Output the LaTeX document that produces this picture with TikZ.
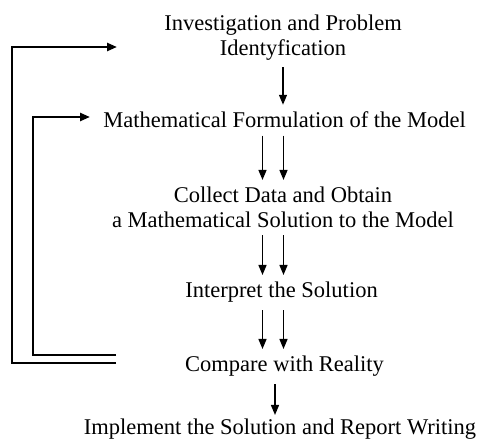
\documentclass[tikz,border=0pt]{standalone}
\usepackage{fontspec}
\setmainfont{Liberation Serif}
\usetikzlibrary{arrows.meta, positioning, calc}
\tikzset{
  stage/.style={align=center, font=\fontsize{11.25}{12.25}\selectfont, inner sep=3.5pt},
  flow/.style={-{Triangle[length=5pt, width=4pt]}, line width=0.7pt},
  feedback/.style={-{Triangle[length=5pt, width=4pt]}, line width=1.2pt},
}

\begin{document}
\begin{tikzpicture}[x=0.5pt, y=-0.5pt]
\useasboundingbox (0,0) rectangle (483,448);
% modelling steps
\node[stage] (inv) at (283,37.5) {Investigation and Problem\\ Identyfication};
\node[stage, anchor=base] (form) at (284.5,128) {Mathematical Formulation of the Model};
\node[stage] (coll) at (283,207.5) {Collect Data and Obtain\\ a Mathematical Solution to the Model};
\node[stage, anchor=base] (intp) at (281.5,298) {Interpret the Solution};
\node[stage, anchor=base] (cmp) at (284.5,372) {Compare with Reality};
\node[stage, anchor=base] (impl) at (280,435) {Implement the Solution and Report Writing};
% arrow columns
\coordinate (colL) at (262.5,0);
\coordinate (colR) at (283.5,0);
\coordinate (colS) at (275,0);
\draw[flow] (inv.south) -- (inv.south |- form.north);
\foreach \c in {colL, colR} {
  \draw[flow] (form.south -| \c) -- (coll.north -| \c);
  \draw[flow] (coll.south -| \c) -- (intp.north -| \c);
  \draw[flow] (intp.south -| \c) -- (cmp.north -| \c);
}
\draw[flow, shorten >=-1.5pt] (cmp.south -| colS) -- (impl.north -| colS);
% feedback loops
\coordinate (outA) at (116,363);
\coordinate (outB) at (117,47);
\coordinate (inA) at (116,355);
\coordinate (inB) at (90,117);
\draw[feedback] (outA) -- ++(-104,0) |- (outB);
\draw[feedback] (inA) -- ++(-83,0) |- (inB);
\end{tikzpicture}
\end{document}
